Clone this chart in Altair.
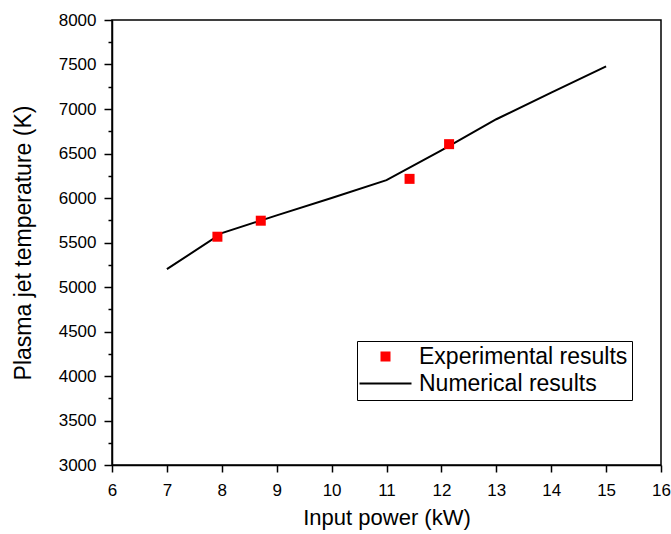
import altair as alt
import pandas as pd

# Numerical results (line)
num_power = [7, 8, 9, 10, 11, 12, 13, 14, 15]
num_temp = [5200, 5605, 5805, 6000, 6200, 6535, 6885, 7185, 7480]

# Experimental results (markers)
exp_power = [7.92, 8.71, 11.42, 12.14]
exp_temp = [5565, 5745, 6215, 6605]

series_names = ["Experimental results", "Numerical results"]
x_ticks = [6 + 0.5 * i for i in range(21)]
y_ticks = [3000 + 250 * i for i in range(21)]

num_df = pd.DataFrame({"power": num_power, "temp": num_temp, "series": series_names[1]})
exp_df = pd.DataFrame({"power": exp_power, "temp": exp_temp, "series": series_names[0]})

FONT = "Liberation Sans"

color_scale = alt.Scale(domain=series_names, range=["#ff0000", "#000000"])
# legend symbols: a square for the experiments, a long horizontal stroke for the model
shape_scale = alt.Scale(domain=series_names, range=["square", "M-6.5,0H6.5"])

legend = alt.Legend(
    orient="none",
    legendX=245,
    legendY=321,
    title=None,
    strokeColor="black",
    fillColor="white",
    padding=4,
    labelFont=FONT,
    labelFontSize=23,
    labelColor="black",
    labelLimit=0,
    symbolSize=64,
    symbolStrokeWidth=2,
    symbolOffset=13,
    labelOffset=22,
    rowPadding=3,
)

x_enc = alt.X(
    "power:Q",
    scale=alt.Scale(domain=[6, 16], nice=False, zero=False),
    axis=alt.Axis(
        title="Input power (kW)",
        values=x_ticks,
        labelExpr="datum.value % 1 === 0 ? datum.label : ''",
        format="d",
        tickSize={"condition": {"test": "datum.value % 1 === 0", "value": 7}, "value": 4},
        labelPadding=10,
        titlePadding=9,
        labelFlush=False,
        labelOverlap=False,
    ),
)
y_enc = alt.Y(
    "temp:Q",
    scale=alt.Scale(domain=[3000, 8000], nice=False, zero=False),
    axis=alt.Axis(
        title="Plasma jet temperature (K)",
        values=y_ticks,
        labelExpr="datum.value % 500 === 0 ? datum.label : ''",
        format="d",
        tickSize={"condition": {"test": "datum.value % 500 === 0", "value": 8}, "value": 4},
        labelPadding=8,
        titlePadding=23,
        titleFontSize=23,
        labelFlush=False,
        labelOverlap=False,
    ),
)

line = alt.Chart(num_df).mark_line(strokeWidth=2).encode(
    x=x_enc,
    y=y_enc,
    color=alt.Color("series:N", scale=color_scale, legend=legend),
)

points = alt.Chart(exp_df).mark_point(filled=True, size=100, opacity=1).encode(
    x=x_enc,
    y=y_enc,
    color=alt.Color("series:N", scale=color_scale, legend=legend),
    shape=alt.Shape("series:N", scale=shape_scale, legend=legend),
)

chart = (
    alt.layer(line, points)
    .properties(
        width=549,
        height=445,
        autosize=alt.AutoSizeParams(type="none"),
        padding={"left": 112, "top": 20, "right": 10, "bottom": 69},
        background="white",
    )
    .configure_view(stroke="black", strokeWidth=1.5)
    .configure_axis(
        grid=False,
        domainColor="black",
        domainWidth=1.5,
        tickColor="black",
        tickWidth=1.5,
        labelColor="black",
        titleColor="black",
        labelFont=FONT,
        titleFont=FONT,
        labelFontSize=17,
        titleFontSize=22,
        titleFontWeight="normal",
    )
)

chart.save("out.html", embed_options={"renderer": "svg", "actions": False})
